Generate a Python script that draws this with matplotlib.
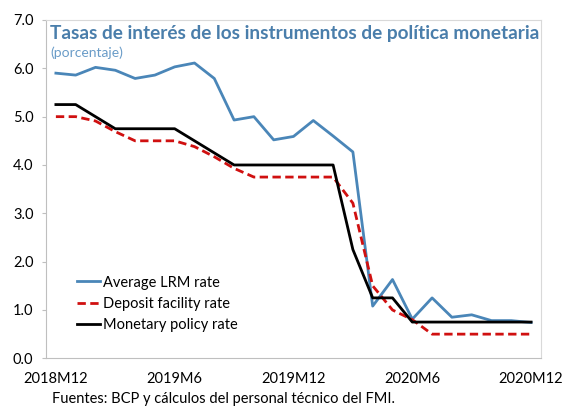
import numpy as np
import matplotlib
matplotlib.use("Agg")
import matplotlib.pyplot as plt

plt.rcParams['font.family'] = ['Lato', 'DejaVu Sans']

# monthly data, 2018M12 .. 2020M12
tick_labels = ['2018M12', '2019M6', '2019M12', '2020M6', '2020M12']
lrm_rate = [5.90, 5.86, 6.02, 5.96, 5.79, 5.86, 6.03, 6.11, 5.79, 4.93,
            5.00, 4.52, 4.59, 4.92, 4.60, 4.27, 1.08, 1.63, 0.81, 1.25,
            0.85, 0.90, 0.78, 0.78, 0.74]
deposit_rate = [5.00, 5.00, 4.91, 4.69, 4.50, 4.50, 4.50, 4.38, 4.17, 3.93,
                3.75, 3.75, 3.75, 3.75, 3.75, 3.21, 1.50, 1.00, 0.80, 0.50,
                0.50, 0.50, 0.50, 0.50, 0.50]
policy_rate = [5.25, 5.25, 5.00, 4.75, 4.75, 4.75, 4.75, 4.50, 4.25, 4.00,
               4.00, 4.00, 4.00, 4.00, 4.00, 2.25, 1.25, 1.25, 0.75, 0.75,
               0.75, 0.75, 0.75, 0.75, 0.75]

x = np.arange(len(lrm_rate))

fig = plt.figure(figsize=(5.65, 4.08), dpi=100)
ax = fig.add_axes([0.0814, 0.1218, 0.8761, 0.8292])

ax.plot(x, lrm_rate, color='#4a86b8', lw=2, label='Average LRM rate')
ax.plot(x, deposit_rate, color='#d01010', lw=2, dashes=(3, 1.6), label='Deposit facility rate')
ax.plot(x, policy_rate, color='black', lw=2, label='Monetary policy rate')

ax.set_xlim(-0.5, 24.5)
ax.set_ylim(0, 7)
ax.set_yticks(np.arange(0, 8))
ax.set_yticklabels(['%.1f' % v for v in range(8)])
ax.set_xticks([0, 6, 12, 18, 24])
ax.set_xticklabels(tick_labels)
ax.tick_params(axis='y', length=3, color='#bfbfbf', labelsize=10.5, pad=6)
ax.tick_params(axis='x', length=0, labelsize=10.5, pad=10)

for s in ['top', 'right']:
    ax.spines[s].set_color('#d9d9d9')
for s in ['left', 'bottom']:
    ax.spines[s].set_color('#bfbfbf')

ax.text(0.008, 0.984, 'Tasas de interés de los instrumentos de política monetaria',
        transform=ax.transAxes, color='#4a7eab', fontsize=13.7, fontweight='bold',
        va='top', ha='left')
ax.text(0.008, 0.922, '(porcentaje)', transform=ax.transAxes, color='#6a9cc8',
        fontsize=10, va='top', ha='left')

ax.legend(loc='lower left', bbox_to_anchor=(0.05, 0.06), frameon=False,
          fontsize=10.5, handlelength=1.6, handletextpad=0.2, labelspacing=0.5,
          borderaxespad=0)

fig.text(0.092, 0.004, 'Fuentes: BCP y cálculos del personal técnico del FMI.',
         fontsize=10.5, va='bottom', ha='left')

fig.savefig('out.png', dpi=100)
